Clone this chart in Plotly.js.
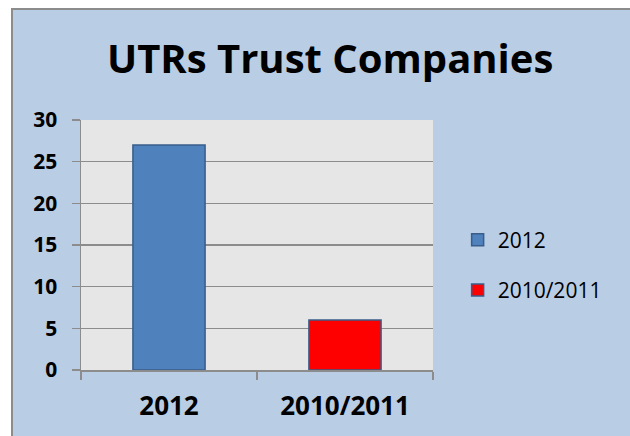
<!DOCTYPE html>
<html><head><meta charset="utf-8">
<script src="https://cdn.plot.ly/plotly-3.0.1.min.js"></script>
<style>
html,body{margin:0;padding:0;background:#fff;width:630px;height:436px;overflow:hidden;}
#chart{position:absolute;left:11px;top:8px;width:617px;height:428px;border-left:2px solid #8c8c8c;border-top:2px solid #8c8c8c;}
</style></head>
<body><div id="chart"></div>
<script>
const categories = ['2012', '2010/2011'];
const seriesNames = ['2012', '2010/2011'];
const values2012 = [27, null];
const values2010_2011 = [null, 6];
const yTicks = [0, 5, 10, 15, 20, 25, 30];

const font = '"Open Sans", "Noto Sans", sans-serif';
const traces = [
  {type:'bar', name: seriesNames[0], x: categories, y: values2012, legendgroup:'a',
   marker:{color:'#4f81bd', line:{color:'#385d8a', width:1.5}}},
  {type:'bar', name: seriesNames[1], x: categories, y: values2010_2011, legendgroup:'b',
   marker:{color:'#ff0000', line:{color:'#385d8a', width:1.5}}}
];
const layout = {
  width: 617, height: 426,
  paper_bgcolor:'#b9cde5', plot_bgcolor:'#e6e6e6',
  margin:{l:68, r:197, t:110, b:66},
  barmode:'overlay', bargap:0.59, showlegend:true,
  title:{text:'UTRs Trust Companies', font:{family:font, size:40, color:'#000', weight:700}, x:0.514, xanchor:'center', xref:'container', y:0.885, yanchor:'middle'},
  xaxis:{type:'category', showgrid:false, tickson:'boundaries', ticks:'outside', ticklen:8, tickcolor:'#8c8c8c', tickwidth:1.5,
         showline:true, linecolor:'#8c8c8c', linewidth:1.5,
         tickfont:{family:font, size:26, color:'#000', weight:700}, ticklabelstandoff:12},
  yaxis:{range:[0,30], tickvals:yTicks, showgrid:true, gridcolor:'#8c8c8c', gridwidth:1.2,
         ticks:'outside', ticklen:8, tickcolor:'#8c8c8c', tickwidth:1.5, showline:true, linecolor:'#8c8c8c', linewidth:1.5,
         zeroline:false, tickfont:{family:font, size:21, color:'#000', weight:700}, ticklabelstandoff:10},
  legend:{x:1.07, xanchor:'left', y:0.42, yanchor:'middle', bgcolor:'rgba(0,0,0,0)', tracegroupgap:20,
          font:{family:font, size:21, color:'#000'}, traceorder:'grouped'}
};
Plotly.newPlot('chart', traces, layout, {displayModeBar:false, staticPlot:true});
</script></body></html>
